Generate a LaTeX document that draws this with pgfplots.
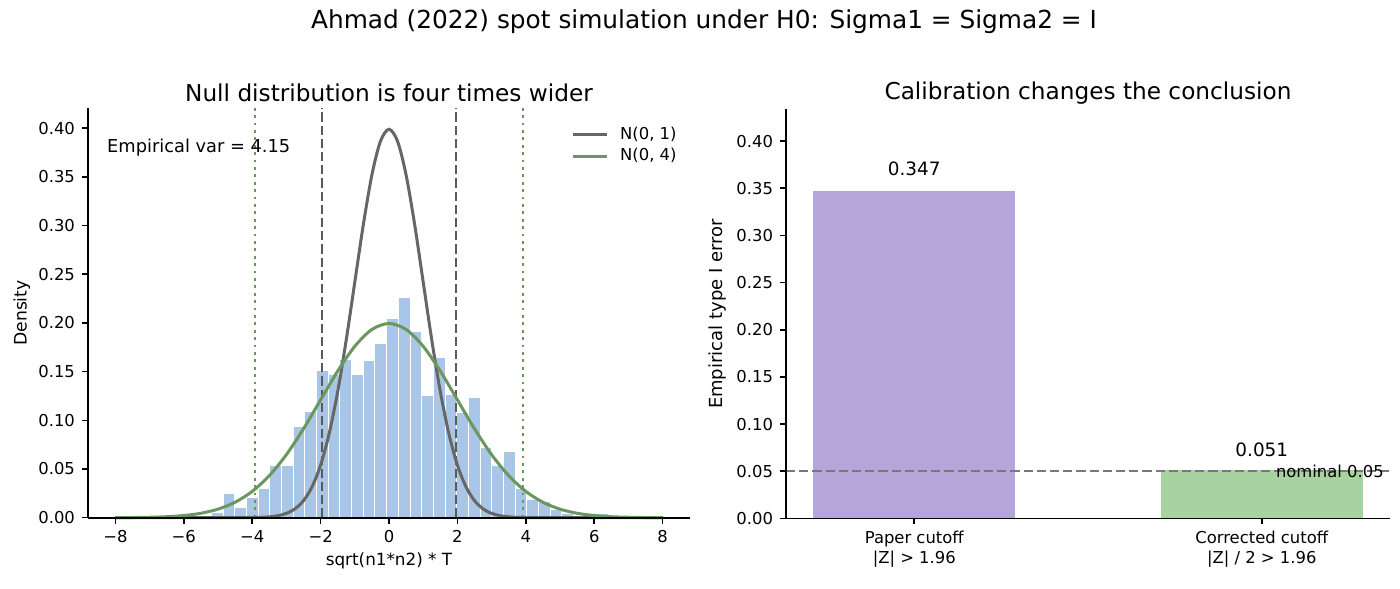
\documentclass[border=0pt]{standalone}
\usepackage{fontspec}
\setmainfont{DejaVu Sans}
\usepackage{pgfplots}
\pgfplotsset{compat=1.18}
\definecolor{histblue}{RGB}{170,198,230}
\definecolor{n1gray}{RGB}{102,102,102}
\definecolor{vgray}{RGB}{90,90,90}
\definecolor{n4green}{RGB}{106,150,95}
\definecolor{barpurple}{RGB}{181,165,217}
\definecolor{bargreen}{RGB}{168,211,160}
\definecolor{nomgray}{RGB}{120,120,120}
\newcommand{\tf}{\fontsize{8.2}{9.8}\selectfont}
\pgfplotsset{
  mystyle/.style={
    scale only axis,
    axis x line*=bottom, axis y line*=left,
    axis line style={-, line width=0.9pt},
    tick align=outside, major tick length=3pt,
    tick style={line width=0.8pt, black},
    every tick label/.append style={font=\tf},
    axis on top,
    clip=false,
  }
}
\begin{document}
\begin{tikzpicture}[x=1pt,y=1pt]
\path[use as bounding box] (0,0) rectangle (700,294);
% ---------------- left panel
\begin{axis}[mystyle,
  at={(44pt,35.15pt)}, anchor=south west, width=301pt, height=204.7pt,
  xmin=-8.8, xmax=8.8, ymin=0, ymax=0.4205,
  xtick={-8,-6,-4,-2,0,2,4,6,8},
  xticklabels={−8,−6,−4,−2,0,2,4,6,8},
  ytick={0,0.05,0.1,0.15,0.2,0.25,0.3,0.35,0.4},
  yticklabels={0.00,0.05,0.10,0.15,0.20,0.25,0.30,0.35,0.40},
  legend style={draw=none, fill=none, at={(0.995,0.975)}, anchor=north east, font=\tf, row sep=-1pt, column sep=4pt},
  legend cell align=left,
]
\addplot[ybar interval, fill=histblue, draw=white, line width=0.5pt, forget plot] coordinates {
(-5.189,0.0049) (-4.848,0.0245) (-4.506,0.0107) (-4.165,0.021) (-3.824,0.0296)
(-3.482,0.0537) (-3.141,0.0537) (-2.799,0.0939) (-2.458,0.109) (-2.117,0.151)
(-1.775,0.147) (-1.434,0.1627) (-1.093,0.147) (-0.751,0.161) (-0.410,0.1785)
(-0.068,0.2047) (0.273,0.2264) (0.614,0.191) (0.956,0.1253) (1.297,0.165)
(1.639,0.127) (1.980,0.1077) (2.321,0.1235) (2.663,0.0716) (3.004,0.0537)
(3.346,0.0678) (3.687,0.0303) (4.028,0.0183) (4.370,0.0165) (4.711,0.008)
(5.053,0.0045) (5.394,0) (5.735,0) (6.077,0.0045) (6.418,0)
};
\addplot[vgray, line width=1.1pt, dash pattern=on 4.6pt off 2pt, forget plot] coordinates {(-1.96,0) (-1.96,0.4205)};
\addplot[vgray, line width=1.1pt, dash pattern=on 4.6pt off 2pt, forget plot] coordinates {(1.96,0) (1.96,0.4205)};
\addplot[n4green, line width=1.4pt, dash pattern=on 1.4pt off 2.3pt, forget plot] coordinates {(-3.92,0) (-3.92,0.4205)};
\addplot[n4green, line width=1.4pt, dash pattern=on 1.4pt off 2.3pt, forget plot] coordinates {(3.92,0) (3.92,0.4205)};
\addplot[n1gray, line width=1.5pt, smooth] coordinates {
(-8,0) (-7,0) (-6,0) (-5,0) (-4.5,0.00002) (-4,0.00013) (-3.75,0.00035) (-3.5,0.00087) (-3.25,0.00203)
(-3,0.00443) (-2.75,0.00909) (-2.5,0.01753) (-2.25,0.03174) (-2,0.05399) (-1.75,0.08628)
(-1.5,0.12952) (-1.25,0.18265) (-1,0.24197) (-0.75,0.30114) (-0.5,0.35207) (-0.25,0.38667)
(0,0.39894)
(0.25,0.38667) (0.5,0.35207) (0.75,0.30114) (1,0.24197) (1.25,0.18265) (1.5,0.12952)
(1.75,0.08628) (2,0.05399) (2.25,0.03174) (2.5,0.01753) (2.75,0.00909) (3,0.00443)
(3.25,0.00203) (3.5,0.00087) (3.75,0.00035) (4,0.00013) (4.5,0.00002) (5,0) (6,0) (7,0) (8,0)
};
\addlegendentry{N(0, 1)}
\addplot[n4green, line width=1.5pt, smooth] coordinates {
(-8,0.00007) (-7.5,0.00018) (-7,0.00044) (-6.5,0.00101) (-6,0.00222) (-5.5,0.00455)
(-5,0.00876) (-4.5,0.01587) (-4,0.02700) (-3.5,0.04314) (-3,0.06476) (-2.5,0.09132)
(-2,0.12099) (-1.5,0.15057) (-1,0.17603) (-0.5,0.19333) (0,0.19947)
(0.5,0.19333) (1,0.17603) (1.5,0.15057) (2,0.12099) (2.5,0.09132) (3,0.06476)
(3.5,0.04314) (4,0.02700) (4.5,0.01587) (5,0.00876) (5.5,0.00455) (6,0.00222)
(6.5,0.00101) (7,0.00044) (7.5,0.00018) (8,0.00007)
};
\addlegendentry{N(0, 4)}
\node[anchor=west, font=\fontsize{8.9}{10.5}\selectfont, inner sep=0pt] at (axis cs:-8.25,0.38) {Empirical var = 4.15};
\end{axis}
% ---------------- right panel
\begin{axis}[mystyle,
  at={(393pt,34.8pt)}, anchor=south west, width=302pt, height=204.7pt,
  xmin=-0.369, xmax=1.369, ymin=0, ymax=0.434,
  xtick={0,1},
  xticklabels={{Paper cutoff\\|Z| > 1.96},{Corrected cutoff\\|Z| / 2 > 1.96}},
  xticklabel style={align=center},
  ytick={0,0.05,0.1,0.15,0.2,0.25,0.3,0.35,0.4},
  yticklabels={0.00,0.05,0.10,0.15,0.20,0.25,0.30,0.35,0.40},
]
\addplot[ybar, bar width=0.58, bar shift=0pt, fill=barpurple, draw=none,
  point meta=explicit symbolic, nodes near coords,
  every node near coord/.append style={font=\fontsize{9.2}{11}\selectfont, yshift=4pt}]
  coordinates {(0,0.347) [0.347]};
\addplot[ybar, bar width=0.58, bar shift=0pt, fill=bargreen, draw=none,
  point meta=explicit symbolic, nodes near coords,
  every node near coord/.append style={font=\fontsize{9.2}{11}\selectfont, yshift=3pt}]
  coordinates {(1,0.051) [0.051]};
\addplot[nomgray, line width=1.1pt, dash pattern=on 4.6pt off 2pt] coordinates {(-0.369,0.05) (1.369,0.05)};
\node[anchor=east, font=\tf, inner sep=0pt] at (axis cs:1.352,0.05) {nominal 0.05};
\end{axis}
% ---------------- texts
\node[font=\fontsize{12.4}{14}\selectfont, inner sep=0pt] at (352,283) {Ahmad (2022) spot simulation under H0: Sigma1 = Sigma2 = I};
\node[font=\fontsize{11.6}{14}\selectfont, inner sep=0pt] at (194.5,247.5) {Null distribution is four times wider};
\node[font=\fontsize{11.6}{14}\selectfont, inner sep=0pt] at (544,247.5) {Calibration changes the conclusion};
\node[font=\fontsize{8.4}{10}\selectfont, inner sep=0pt] at (194.5,13.5) {sqrt(n1*n2) * T};
\node[font=\fontsize{8.6}{10}\selectfont, inner sep=0pt, rotate=90] at (11,137.5) {Density};
\node[font=\fontsize{9}{11}\selectfont, inner sep=0pt, rotate=90] at (359,137) {Empirical type I error};
\end{tikzpicture}
\end{document}
